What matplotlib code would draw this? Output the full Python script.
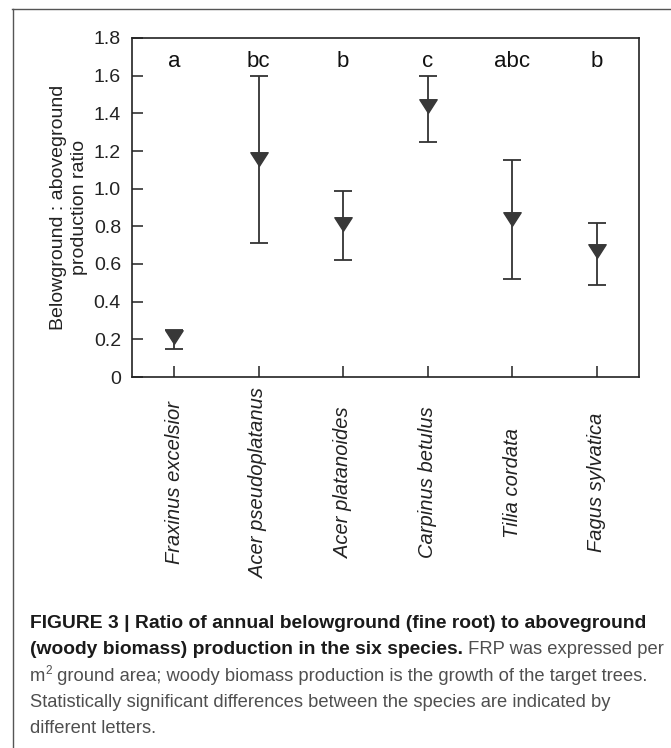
import matplotlib
matplotlib.use("Agg")
import matplotlib.pyplot as plt
from matplotlib.lines import Line2D
from matplotlib.path import Path

plt.rcParams['font.family'] = ['Liberation Sans', 'DejaVu Sans']

# ratio of belowground to aboveground production
species = ['Fraxinus excelsior', 'Acer pseudoplatanus', 'Acer platanoides',
           'Carpinus betulus', 'Tilia cordata', 'Fagus sylvatica']
ratio = [0.21, 1.16, 0.81, 1.44, 0.84, 0.67]
upper = [0.25, 1.60, 0.99, 1.60, 1.15, 0.82]
lower = [0.15, 0.71, 0.62, 1.25, 0.52, 0.49]
letters = ['a', 'bc', 'b', 'c', 'abc', 'b']
yticks = [0, 0.2, 0.4, 0.6, 0.8, 1.0, 1.2, 1.4, 1.6, 1.8]
yticklabels = ['0', '0.2', '0.4', '0.6', '0.8', '1.0', '1.2', '1.4', '1.6', '1.8']

W, H = 671, 748
fig = plt.figure(figsize=(W / 100, H / 100), dpi=100)
ax = fig.add_axes([132 / W, 1 - 377 / H, 507 / W, 339 / H])

x = list(range(1, len(species) + 1))
err_lo = [r - l for r, l in zip(ratio, lower)]
err_hi = [u - r for u, r in zip(upper, ratio)]
tri = Path([(-1, 0.78), (1, 0.78), (0, -0.78), (-1, 0.78)],
           [Path.MOVETO, Path.LINETO, Path.LINETO, Path.CLOSEPOLY])
ax.errorbar(x, ratio, yerr=[err_lo, err_hi], fmt='none', ecolor='#333333',
            elinewidth=1.3, capsize=6.3, capthick=1.3, zorder=2)
ax.plot(x, ratio, linestyle='none', marker=tri, markersize=12.5,
        color='#383838', zorder=3)

for xi, lab in zip(x, letters):
    ax.text(xi, 1.645, lab, ha='center', va='baseline', fontsize=16,
            color='#111111')

ax.set_xlim(0.5, 6.5)
ax.set_ylim(0, 1.8)
ax.set_yticks(yticks)
ax.set_yticklabels(yticklabels)
ax.set_xticks(x)
ax.set_xticklabels(species, rotation=90, va='center', style='italic',
                   fontsize=14.5)
ax.tick_params(axis='y', direction='in', length=8, width=1.1, pad=8,
               labelsize=14, colors='#222222')
ax.tick_params(axis='x', direction='in', length=8, width=1.1, pad=76,
               colors='#222222')
for s in ax.spines.values():
    s.set_linewidth(1.2)
    s.set_color('#222222')
ax.set_ylabel('Belowground : aboveground\nproduction ratio', fontsize=14,
              labelpad=4, color='#222222', linespacing=1.35)

# frame lines (top and left only)
fig.add_artist(Line2D([12 / W, 1], [1 - 8.5 / H, 1 - 8.5 / H],
                      transform=fig.transFigure, color='#555555', lw=1.0))
fig.add_artist(Line2D([12.5 / W, 12.5 / W], [0, 1 - 8.5 / H],
                      transform=fig.transFigure, color='#555555', lw=1.0))

# caption
cap_font = ['Liberation Sans Narrow', 'Liberation Sans', 'DejaVu Sans']
bold_c = '#1a1a1a'
reg_c = '#4f4f4f'
x0 = 30 / W
rows = [628, 654, 681, 707, 733]

renderer = fig.canvas.get_renderer()


def fit_size(s, weight, target_px, base=14):
    t = fig.text(0, 0, s, fontsize=base, family=cap_font, weight=weight)
    w = t.get_window_extent(renderer).width
    t.remove()
    return base * target_px / w


bold_size = fit_size('FIGURE 3 | Ratio of annual belowground (fine root) to aboveground',
                     'bold', 617)
reg_size = fit_size('Statistically significant differences between the species are indicated by',
                    'normal', 584)


def put(xf, yrow, s, weight='normal', color=reg_c, size=None, dy=0):
    if size is None:
        size = bold_size if weight == 'bold' else reg_size
    t = fig.text(xf, 1 - (yrow - dy) / H, s, fontsize=size, family=cap_font,
                 weight=weight, color=color, ha='left', va='baseline')
    bb = t.get_window_extent(renderer)
    return bb.x1 / W


put(x0, rows[0], 'FIGURE 3 | Ratio of annual belowground (fine root) to aboveground',
    weight='bold', color=bold_c)
xe = put(x0, rows[1], '(woody biomass) production in the six species.',
         weight='bold', color=bold_c)
put(xe, rows[1], ' FRP was expressed per')
xe = put(x0, rows[2], 'm')
xe = put(xe, rows[2], '2', size=reg_size * 0.65, dy=7)
put(xe, rows[2], ' ground area; woody biomass production is the growth of the target trees.')
put(x0, rows[3], 'Statistically significant differences between the species are indicated by')
put(x0, rows[4], 'different letters.')

fig.savefig('out.png', dpi=100)
